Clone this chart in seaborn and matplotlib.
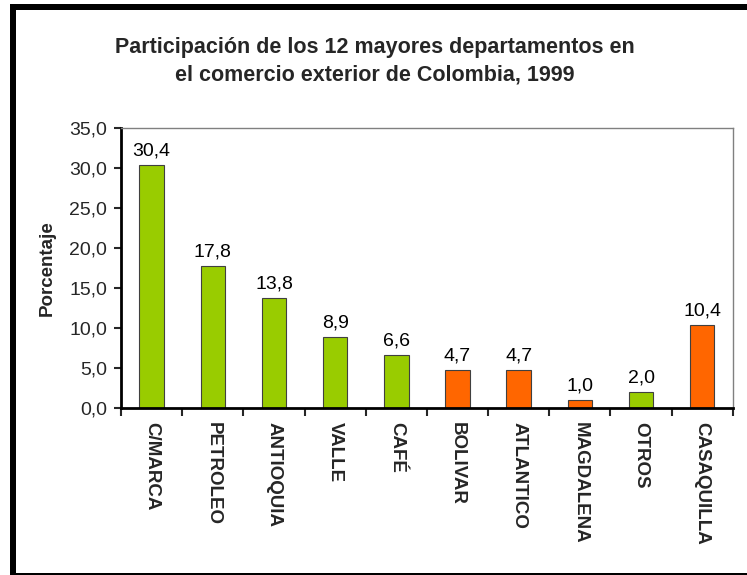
import matplotlib
matplotlib.use("Agg")
import matplotlib.pyplot as plt
from matplotlib.patches import Rectangle
from matplotlib.ticker import FixedLocator, FuncFormatter
import pandas as pd
import seaborn as sns

departamentos = ["C/MARCA", "PETROLEO", "ANTIOQUIA", "VALLE", "CAFÉ",
                 "BOLIVAR", "ATLANTICO", "MAGDALENA", "OTROS", "CASAQUILLA"]
porcentaje = [30.4, 17.8, 13.8, 8.9, 6.6, 4.7, 4.7, 1.0, 2.0, 10.4]
grupo = ["a", "a", "a", "a", "a", "b", "b", "b", "a", "b"]

df = pd.DataFrame({"dep": departamentos, "pct": porcentaje, "grupo": grupo})

sns.set_style("white")
plt.rcParams["font.family"] = ["Liberation Sans", "DejaVu Sans"]

fig = plt.figure(figsize=(7.47, 5.75), dpi=100)
ax = fig.add_axes([0.162, 0.2904, 0.819, 0.487])

sns.barplot(data=df, x="dep", y="pct", hue="grupo",
            palette={"a": "#99CC00", "b": "#FF6600"}, dodge=False,
            saturation=1, width=0.4, edgecolor="#404040", linewidth=0.8,
            legend=False, ax=ax)

# value labels
for i, v in enumerate(porcentaje):
    ax.annotate(f"{v:.1f}".replace(".", ","), (i, v), xytext=(0, 4),
                textcoords="offset points", ha="center", va="bottom",
                fontsize=14, color="black")

ax.set_ylim(0, 35)
ax.set_xlim(-0.5, len(departamentos) - 0.5)
ax.set_yticks(range(0, 36, 5))
ax.yaxis.set_major_formatter(FuncFormatter(lambda y, _: f"{y:.1f}".replace(".", ",")))
ax.tick_params(axis="y", which="major", left=True, direction="out", length=5,
               width=1.5, labelsize=14, pad=5)

ax.set_xticks(range(len(departamentos)))
ax.set_xticklabels(departamentos, rotation=270, fontweight="bold", fontsize=13.5)
ax.tick_params(axis="x", which="major", bottom=False, length=0, pad=10)
ax.xaxis.set_minor_locator(FixedLocator([i - 0.5 for i in range(len(departamentos) + 1)]))
ax.tick_params(axis="x", which="minor", bottom=True, direction="out", length=6, width=1.5)
for lbl in ax.get_xticklabels():
    lbl.set_va("top")
    lbl.set_ha("center")

ax.set_xlabel("")
ax.set_ylabel("Porcentaje", fontweight="bold", fontsize=13.5, labelpad=10)

for side in ["left", "bottom"]:
    ax.spines[side].set_color("black")
    ax.spines[side].set_linewidth(2)
for side in ["top", "right"]:
    ax.spines[side].set_visible(True)
    ax.spines[side].set_color("#808080")
    ax.spines[side].set_linewidth(1)

fig.text(0.502, 0.893, "Participación de los 12 mayores departamentos en\nel comercio exterior de Colombia, 1999",
         ha="center", va="center", fontsize=15.5, fontweight="bold", linespacing=1.4)

# outer frame (top and left thick, bottom thin)
W, H = 747.0, 575.0
fig.add_artist(Rectangle((10 / W, 1 - 10 / H), 1 - 10 / W, 6 / H, transform=fig.transFigure,
                         facecolor="black", edgecolor="none"))
fig.add_artist(Rectangle((10 / W, 0), 6 / W, 1 - 4 / H, transform=fig.transFigure,
                         facecolor="black", edgecolor="none"))
fig.add_artist(Rectangle((10 / W, 0.5 / H), 1 - 10 / W, 2 / H, transform=fig.transFigure,
                         facecolor="black", edgecolor="none"))

fig.savefig("out.png", dpi=100)
